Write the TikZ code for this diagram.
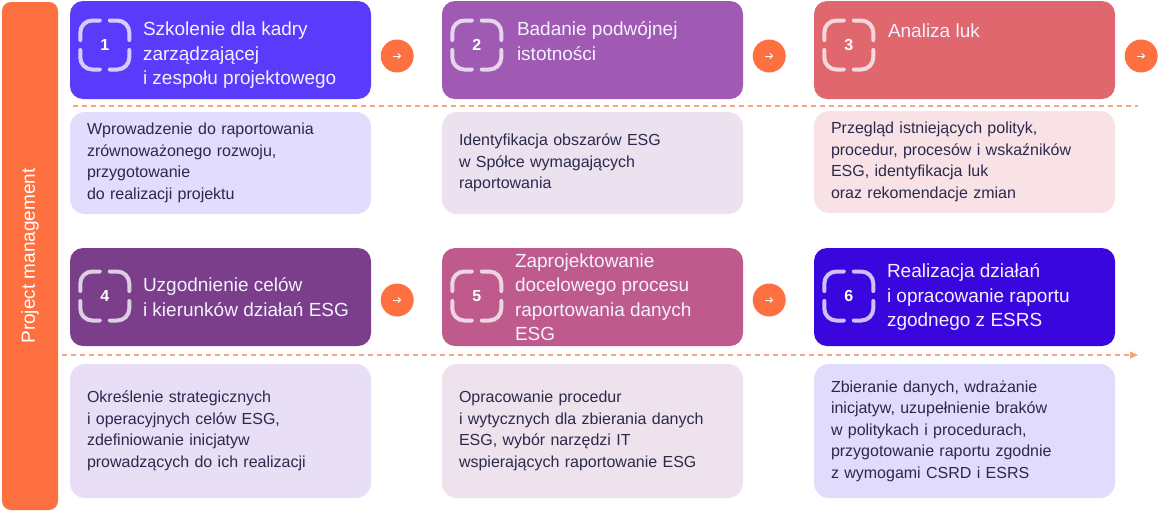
\documentclass[tikz,border=0pt]{standalone}
\usepackage{fontspec}
\setmainfont{Liberation Sans}
\usetikzlibrary{arrows.meta}

\definecolor{pmorange}{HTML}{FF7040}
\definecolor{dashorange}{HTML}{F9A47F}
\definecolor{headwhite}{HTML}{F4F0FF}
\definecolor{desctext}{HTML}{2B2A4C}
\definecolor{hcolA}{HTML}{5B3BFB}
\definecolor{hcolB}{HTML}{A05AB3}
\definecolor{hcolC}{HTML}{E0676E}
\definecolor{hcolD}{HTML}{7A3E8A}
\definecolor{hcolE}{HTML}{BF5B8C}
\definecolor{hcolF}{HTML}{3A06DE}
\definecolor{dcolA}{HTML}{E2DCFD}
\definecolor{dcolB}{HTML}{ECE1EE}
\definecolor{dcolC}{HTML}{F9E2E5}
\definecolor{dcolD}{HTML}{E8DEF6}
\definecolor{dcolE}{HTML}{EEE2ED}
\definecolor{dcolF}{HTML}{E1DBFC}

\tikzset{
  headbox/.style={rounded corners=13pt, minimum width=301pt, minimum height=98pt, inner sep=0pt},
  descbox/.style={rounded corners=15pt, minimum width=301pt, text width=267pt, inner xsep=17pt, inner ysep=0pt,
    align=left, text=desctext, font=\fontsize{16}{21.5}\selectfont},
  headtext/.style={inner sep=0pt, align=left, text=headwhite, font=\fontsize{19}{24.5}\selectfont},
  nextdot/.style={circle, fill=pmorange, minimum size=33pt, inner sep=0pt},
  flowline/.style={dashorange, line width=1.3pt, dash pattern=on 5pt off 4pt},
  pics/stepmark/.style={code={
    \draw[white, opacity=0.75, line width=4pt, line cap=round, rounded corners=12pt]
      (-5,-24.5) -- (-24.5,-24.5) -- (-24.5,-5)
      (5,-24.5) -- (24.5,-24.5) -- (24.5,-5)
      (-5,24.5) -- (-24.5,24.5) -- (-24.5,5)
      (5,24.5) -- (24.5,24.5) -- (24.5,5);
    \node[text=white, font=\fontsize{16}{16}\selectfont\bfseries] {#1};
  }}
}

\begin{document}
\begin{tikzpicture}[x=1pt, y=-1pt]
\useasboundingbox (0,0) rectangle (1160,512);

\node[fill=pmorange, rounded corners=9pt, minimum width=56pt, minimum height=508pt] (pm) at (30,256) {};
\node[rotate=90, text=white, font=\fontsize{19}{19}\selectfont] (pmtxt) at (pm.center) {Project management};

% dashed flow lines
\coordinate (flowAs) at (73,106);
\coordinate (flowAe) at (1138,106);
\coordinate (flowBs) at (62,355);
\coordinate (flowBe) at (1138,355);
\draw[flowline] (flowAs) -- (flowAe);
\draw[flowline, -{Triangle[length=8pt, width=7pt]}] (flowBs) -- (flowBe);

% step headers
\node[headbox, fill=hcolA] (h1) at (220.5,50) {};
\node[headbox, fill=hcolB] (h2) at (592.5,50) {};
\node[headbox, fill=hcolC] (h3) at (964.5,50) {};
\node[headbox, fill=hcolD] (h4) at (220.5,297) {};
\node[headbox, fill=hcolE] (h5) at (592.5,297) {};
\node[headbox, fill=hcolF] (h6) at (964.5,297) {};

\pic at ([xshift=35pt, yshift=5pt]h1.west) {stepmark=1};
\pic at ([xshift=35pt, yshift=5pt]h2.west) {stepmark=2};
\pic at ([xshift=35pt, yshift=5pt]h3.west) {stepmark=3};
\pic at ([xshift=35pt, yshift=1pt]h4.west) {stepmark=4};
\pic at ([xshift=35pt, yshift=1pt]h5.west) {stepmark=5};
\pic at ([xshift=35pt, yshift=1pt]h6.west) {stepmark=6};

\node[headtext, anchor=north west] (t1) at ([xshift=73pt, yshift=-21pt]h1.north west) {Szkolenie dla kadry\\zarządzającej\\i zespołu projektowego};
\node[headtext, anchor=north west] (t2) at ([xshift=75pt, yshift=-21pt]h2.north west) {Badanie podwójnej\\istotności};
\node[headtext, anchor=north west] (t3) at ([xshift=74pt, yshift=-23pt]h3.north west) {Analiza luk};
\node[headtext, anchor=west] (t4) at ([xshift=73pt]h4.west) {Uzgodnienie celów\\i kierunków działań ESG};
\node[headtext, anchor=west] (t5) at ([xshift=73pt]h5.west) {Zaprojektowanie\\docelowego procesu\\raportowania danych\\ESG};
\node[headtext, anchor=west] (t6) at ([xshift=73pt]h6.west) {Realizacja działań\\i opracowanie raportu\\zgodnego z ESRS};

% next arrows
\node[nextdot] (n1) at ([xshift=26pt, yshift=-6pt]h1.east) {};
\node[nextdot] (n2) at ([xshift=26pt, yshift=-6pt]h2.east) {};
\node[nextdot] (n3) at ([xshift=26pt, yshift=-6pt]h3.east) {};
\node[nextdot] (n4) at ([xshift=26pt, yshift=-3pt]h4.east) {};
\node[nextdot] (n5) at ([xshift=26pt, yshift=-3pt]h5.east) {};
\foreach \n in {n1,n2,n3,n4,n5}
  \draw[white, line width=1pt, -{Straight Barb[length=2.5pt, width=5pt]}] ([xshift=-4pt]\n.center) -- ([xshift=4pt]\n.center);

% descriptions
\node[descbox, fill=dcolA, minimum height=102pt] (d1) at (220.5,163) {Wprowadzenie do raportowania\\zrównoważonego rozwoju,\\przygotowanie\\do realizacji projektu};
\node[descbox, fill=dcolB, minimum height=102pt] (d2) at (592.5,163) {Identyfikacja obszarów ESG\\w Spółce wymagających\\raportowania};
\node[descbox, fill=dcolC, minimum height=102pt] (d3) at (964.5,162) {Przegląd istniejących polityk,\\procedur, procesów i wskaźników\\ESG, identyfikacja luk\\oraz rekomendacje zmian};
\node[descbox, fill=dcolD, minimum height=134pt] (d4) at (220.5,431) {Określenie strategicznych\\i operacyjnych celów ESG,\\zdefiniowanie inicjatyw\\prowadzących do ich realizacji};
\node[descbox, fill=dcolE, minimum height=134pt] (d5) at (592.5,431) {Opracowanie procedur\\i wytycznych dla zbierania danych\\ESG, wybór narzędzi IT\\wspierających raportowanie ESG};
\node[descbox, fill=dcolF, minimum height=134pt] (d6) at (964.5,431) {Zbieranie danych, wdrażanie\\inicjatyw, uzupełnienie braków\\w politykach i procedurach,\\przygotowanie raportu zgodnie\\z wymogami CSRD i ESRS};
\end{tikzpicture}
\end{document}
